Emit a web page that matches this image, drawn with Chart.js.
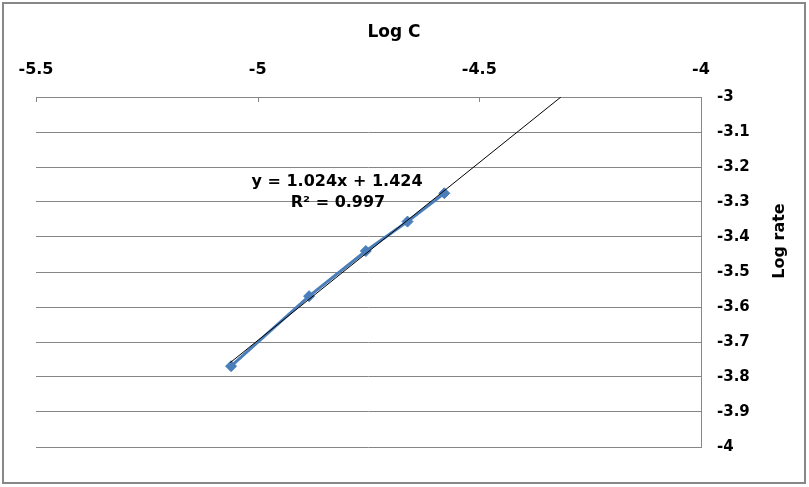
<!DOCTYPE html>
<html>
<head>
<meta charset="utf-8">
<script src="https://cdn.jsdelivr.net/npm/chart.js@4.4.1/dist/chart.umd.min.js"></script>
<style>
html,body{margin:0;padding:0;background:#fff;}
#wrap{width:809px;height:487px;position:relative;}
</style>
</head>
<body>
<div id="wrap"><canvas id="c" width="809" height="487"></canvas></div>
<script>
// Data
const logC    = [-5.060, -4.884, -4.756, -4.662, -4.579];
const logRate = [-3.769, -3.569, -3.440, -3.356, -3.275];
// Linear trendline as drawn (start / exit points)
const trendX = [-5.062, -4.316];
const trendY = [-3.759, -3.000];
// Tick labels
const xTicks = [-5.5, -5, -4.5, -4];
const yTicks = [-3, -3.1, -3.2, -3.3, -3.4, -3.5, -3.6, -3.7, -3.8, -3.9, -4];
const xTitle = 'Log C';
const yTitle = 'Log rate';
const eqLines = ['y = 1.024x + 1.424', 'R² = 0.997'];

const FONT = 'DejaVu Sans';
const GRID = '#868686';

const decor = {
  id: 'decor',
  afterDraw(chart) {
    const ctx = chart.ctx;
    const xs = chart.scales.x;
    const area = chart.chartArea;
    ctx.save();
    // inside tick marks on top x axis
    ctx.strokeStyle = GRID;
    ctx.lineWidth = 1;
    xTicks.forEach(v => {
      const px = Math.round(xs.getPixelForValue(v)) + 0.5;
      ctx.beginPath();
      ctx.moveTo(px, area.top);
      ctx.lineTo(px, area.top + 5);
      ctx.stroke();
    });
    // titles
    ctx.fillStyle = '#000';
    ctx.textAlign = 'center';
    ctx.textBaseline = 'middle';
    ctx.font = 'bold 17px "' + FONT + '"';
    ctx.fillText(xTitle, 394, 33);
    ctx.save();
    ctx.translate(780, 241);
    ctx.rotate(-Math.PI / 2);
    ctx.font = 'bold 16px "' + FONT + '"';
    ctx.fillText(yTitle, 0, 0);
    ctx.restore();
    // trendline equation
    ctx.font = 'bold 16px "' + FONT + '"';
    ctx.fillText(eqLines[0], 337, 182);
    ctx.fillText(eqLines[1], 338, 203);
    // outer border
    ctx.strokeStyle = '#878787';
    ctx.lineWidth = 2;
    ctx.strokeRect(3, 3, 802, 480);
    ctx.restore();
  }
};

new Chart(document.getElementById('c'), {
  type: 'scatter',
  data: {
    datasets: [
      {
        label: 'Trendline',
        data: trendX.map((x, i) => ({x: x, y: trendY[i]})),
        showLine: true,
        borderColor: '#000000',
        borderWidth: 1,
        pointRadius: 0
      },
      {
        label: 'Log rate',
        data: logC.map((x, i) => ({x: x, y: logRate[i]})),
        showLine: true,
        borderColor: '#4A7EBB',
        borderWidth: 3,
        pointStyle: 'rectRot',
        pointRadius: 5.5,
        pointBackgroundColor: '#4A7EBB',
        pointBorderColor: '#4A7EBB',
        pointBorderWidth: 1
      }
    ]
  },
  options: {
    responsive: false,
    animation: false,
    events: [],
    layout: { padding: { left: 36, bottom: 40, top: 0, right: 0 } },
    plugins: { legend: { display: false }, tooltip: { enabled: false } },
    scales: {
      x: {
        type: 'linear',
        position: 'top',
        min: -5.5,
        max: -4,
        afterBuildTicks: s => { s.ticks = xTicks.map(v => ({value: v})); },
        afterFit: s => { s.height = 97; },
        grid: { display: false, drawTicks: false },
        border: { display: true, color: GRID, width: 1 },
        ticks: {
          color: '#000',
          padding: 18,
          maxRotation: 0,
          font: { family: FONT, weight: 'bold', size: 16 },
          callback: v => String(v)
        }
      },
      y: {
        type: 'linear',
        position: 'right',
        min: -4,
        max: -3,
        afterBuildTicks: s => { s.ticks = yTicks.map(v => ({value: v})); },
        afterFit: s => { s.width = 108; },
        grid: { display: true, color: GRID, lineWidth: 1, drawTicks: false },
        border: { display: true, color: GRID, width: 1 },
        ticks: {
          color: '#000',
          padding: 16,
          font: { family: FONT, weight: 'bold', size: 15 },
          callback: v => String(v)
        }
      }
    }
  },
  plugins: [decor]
});
</script>
</body>
</html>
